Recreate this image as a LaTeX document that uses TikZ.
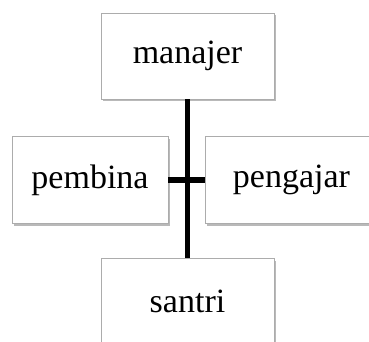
\documentclass[tikz,border=0pt]{standalone}
\usepackage{fontspec}
\setmainfont{Liberation Serif}
\usetikzlibrary{shadows}

\tikzset{
  kotak/.style={draw=gray!65, fill=white, line width=0.9pt,
    drop shadow={shadow xshift=1.5pt, shadow yshift=-2.5pt, opacity=0.55, fill=gray},
    font=\fontsize{34}{38}\selectfont, inner sep=0pt},
  garis/.style={line width=5.5pt, black}
}

\begin{document}
\begin{tikzpicture}[x=1pt, y=-1pt]
  % Batas gambar
  \useasboundingbox (0,0) rectangle (369,342);
  \clip (0,0) rectangle (369,342);

  % Kotak-kotak
  \node[kotak, minimum width=173pt, minimum height=86pt] (manajer) at (187.5,56) {manajer};
  \node[kotak, minimum width=156pt, minimum height=87pt] (pembina) at (90,180) {pembina};
  \node[kotak, minimum width=173pt, minimum height=87pt] (pengajar) at (291.5,180) {pengajar};
  \node[kotak, minimum width=173pt, minimum height=86pt] (santri) at (187.5,301) {santri};

  % Garis penghubung
  \draw[garis] (manajer.south) -- (santri.north);
  \draw[garis, line width=6pt] (pembina.east) -- (pengajar.west);
\end{tikzpicture}
\end{document}
